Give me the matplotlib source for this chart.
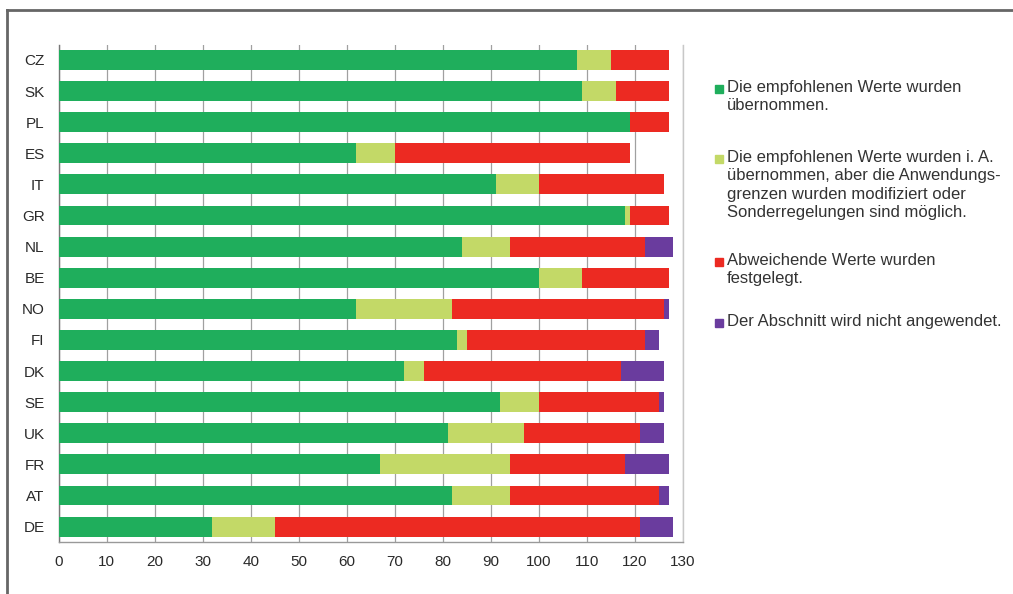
"""Stacked horizontal bars: adoption of recommended values per country."""

import matplotlib

matplotlib.use("Agg")

import matplotlib.pyplot as plt
import numpy as np
from matplotlib.lines import Line2D
from matplotlib.patches import Rectangle

plt.rcParams["font.family"] = ["Liberation Sans", "DejaVu Sans"]

countries = ["CZ", "SK", "PL", "ES", "IT", "GR", "NL", "BE",
             "NO", "FI", "DK", "SE", "UK", "FR", "AT", "DE"]

# segment lengths per country, in country order above
adopted = [108, 109, 119, 62, 91, 118, 84, 100, 62, 83, 72, 92, 81, 67, 82, 32]
adopted_modified = [7, 7, 0, 8, 9, 1, 10, 9, 20, 2, 4, 8, 16, 27, 12, 13]
deviating = [12, 11, 8, 49, 26, 8, 28, 18, 44, 37, 41, 25, 24, 24, 31, 76]
not_applied = [0, 0, 0, 0, 0, 0, 6, 0, 1, 3, 9, 1, 5, 9, 2, 7]

series_labels = [
    "Die empfohlenen Werte wurden\nübernommen.",
    "Die empfohlenen Werte wurden i. A.\nübernommen, aber die Anwendungs-\n"
    "grenzen wurden modifiziert oder\nSonderregelungen sind möglich.",
    "Abweichende Werte wurden\nfestgelegt.",
    "Der Abschnitt wird nicht angewendet.",
]
colors = ["#1fae5c", "#c3d967", "#ec2a22", "#6a3c9e"]
x_ticks = list(range(0, 131, 10))

W, H = 1013, 594
fig = plt.figure(figsize=(W / 100, H / 100), dpi=100)
fig.patch.set_facecolor("white")

ax = fig.add_axes([58.5 / W, 1 - 541.5 / H, (683 - 58.5) / W, (541.5 - 45) / H])

ypos = np.arange(len(countries))
left = np.zeros(len(countries))
for values, color in zip([adopted, adopted_modified, deviating, not_applied], colors):
    values = np.asarray(values, dtype=float)
    ax.barh(ypos, values, left=left, height=0.64, color=color, zorder=3)
    left += values

ax.set_xlim(0, 130)
ax.set_ylim(len(countries) - 0.52, -0.48)
ax.set_xticks(x_ticks)
ax.set_yticks(ypos)
ax.set_yticklabels(countries)
ax.xaxis.grid(True, color="#a0a0a0", linewidth=0.9, zorder=0)
ax.set_axisbelow(True)
ax.tick_params(axis="both", length=0, labelsize=11, colors="#2a2a2a")
ax.tick_params(axis="y", pad=10)
ax.tick_params(axis="x", pad=10)

ax.spines["top"].set_visible(False)
ax.spines["left"].set_color("#777777")
ax.spines["bottom"].set_color("#999999")
ax.spines["right"].set_color("#c8c8c8")
for side in ("left", "bottom", "right"):
    ax.spines[side].set_linewidth(1.0)

# legend drawn by hand so each square sits on the first text line
first_line_y = [89, 159, 262, 323]
for label, color, y in zip(series_labels, colors, first_line_y):
    fig.add_artist(Rectangle((715 / W, 1 - (y + 4) / H), 8 / W, 8 / H,
                             transform=fig.transFigure, color=color))
    fig.text(727 / W, 1 - (y - 9) / H, label, ha="left", va="top",
             fontsize=12, color="#333333", linespacing=1.28)

# page frame
fig.add_artist(Line2D([7 / W, 1], [1 - 10 / H, 1 - 10 / H],
                      transform=fig.transFigure, color="#666666", linewidth=2))
fig.add_artist(Line2D([7 / W, 7 / W], [1 - 10 / H, 0],
                      transform=fig.transFigure, color="#666666", linewidth=2))

fig.savefig("out.png", dpi=100, facecolor="white")
